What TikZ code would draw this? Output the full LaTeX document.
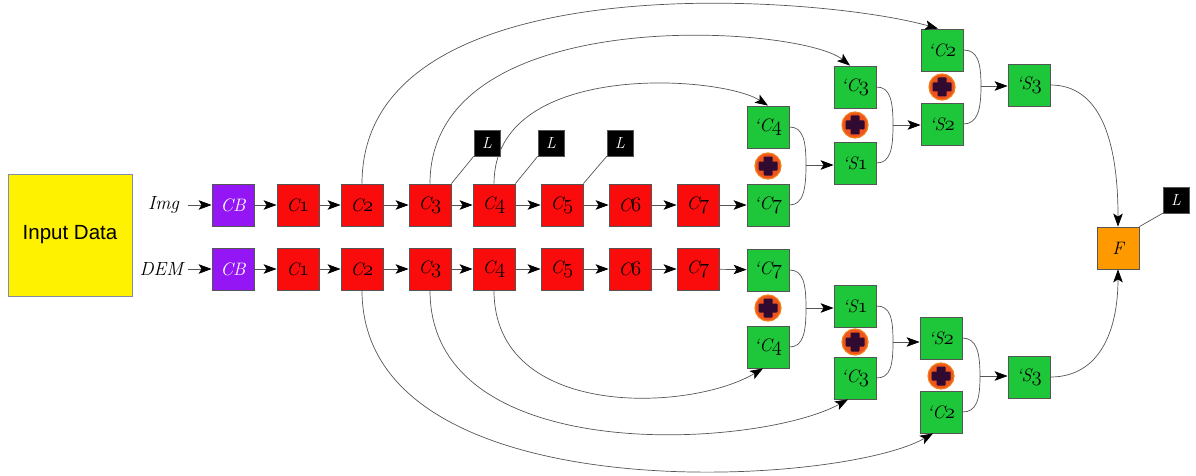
\documentclass[tikz,border=0pt]{standalone}
\usepackage{fontspec}
\newfontfamily\sansf{Liberation Sans}
\usetikzlibrary{arrows.meta}
\newcommand\osn[1]{{\fontsize{21}{21}\usefont{OML}{cmm}{m}{it}#1}}
\definecolor{cbpurple}{RGB}{148,22,245}
\definecolor{cred}{RGB}{250,12,12}
\definecolor{cgreen}{RGB}{30,198,58}
\definecolor{forange}{RGB}{255,153,0}
\definecolor{pring}{RGB}{238,84,30}
\definecolor{pdark}{RGB}{48,10,48}
\definecolor{edgec}{RGB}{85,85,85}
\definecolor{inborder}{RGB}{130,140,170}
\begin{document}
\begin{tikzpicture}[x=1pt,y=-1pt,
  box/.style={draw=edgec, line width=0.8pt, minimum size=42pt, inner sep=0pt,
    font=\fontsize{18}{18}\selectfont\itshape},
  cbbox/.style={box, fill=cbpurple, text=white},
  redbox/.style={box, fill=cred},
  grbox/.style={box, fill=cgreen},
  fbox/.style={box, fill=forange},
  lbox/.style={draw=edgec, fill=black, text=white, minimum size=26pt, inner sep=0pt,
    font=\fontsize{16}{16}\selectfont\itshape},
  lab/.style={inner sep=0pt, outer sep=0pt, anchor=east, font=\fontsize{19}{19}\selectfont\itshape},
  conn/.style={draw=edgec, line width=0.7pt},
  arr/.style={conn, -{Stealth[length=13pt,width=9.5pt,inset=3pt,color=black]}},
  plusc/.style={circle, fill=pring, draw=pring!75!yellow, line width=1.2pt, minimum size=26pt, inner sep=0pt,
    path picture={
      \fill[pdark, rounded corners=1pt] ([xshift=-9.5pt,yshift=-4.5pt]path picture bounding box.center) rectangle ([xshift=9.5pt,yshift=4.5pt]path picture bounding box.center);
      \fill[pdark, rounded corners=1pt] ([xshift=-4.5pt,yshift=-9.5pt]path picture bounding box.center) rectangle ([xshift=4.5pt,yshift=9.5pt]path picture bounding box.center);
    }},
]
\useasboundingbox (0,0) rectangle (1196,476);

% input
\node[draw=inborder, line width=0.8pt, fill=yellow, minimum width=124pt, minimum height=122pt,
  inner sep=0pt, font=\sansf\fontsize{20.5}{20.5}\selectfont] (input) at (70,235) {Input Data};

% labels
\node[lab] (img) at (179,205) {Img};
\node[lab] (dem) at (183,269) {DEM};

% top row
\node[cbbox] (cbu) at (233,205) {CB};
\node[redbox] (c1u) at (298,205) {C\osn{1}};
\node[redbox] (c2u) at (362,205) {C\osn{2}};
\node[redbox] (c3u) at (430,205) {C\osn{3}};
\node[redbox] (c4u) at (494,205) {C\osn{4}};
\node[redbox] (c5u) at (562,205) {C\osn{5}};
\node[redbox] (c6u) at (630,205) {C\osn{6}};
\node[redbox] (c7u) at (698,205) {C\osn{7}};

% bottom row
\node[cbbox] (cbl) at (233,269) {CB};
\node[redbox] (c1l) at (298,269) {C\osn{1}};
\node[redbox] (c2l) at (362,269) {C\osn{2}};
\node[redbox] (c3l) at (430,269) {C\osn{3}};
\node[redbox] (c4l) at (494,269) {C\osn{4}};
\node[redbox] (c5l) at (562,269) {C\osn{5}};
\node[redbox] (c6l) at (630,269) {C\osn{6}};
\node[redbox] (c7l) at (698,269) {C\osn{7}};

% upper green
\node[grbox] (g4u) at (768,127) {`C\osn{4}};
\node[plusc] (p1u) at (768,166) {};
\node[grbox] (g7u) at (768,205) {`C\osn{7}};
\node[grbox] (g3u) at (855,87) {`C\osn{3}};
\node[plusc] (p2u) at (855,125) {};
\node[grbox] (s1u) at (855,163) {`S\osn{1}};
\node[grbox] (g2u) at (942,50) {`C\osn{2}};
\node[plusc] (p3u) at (942,87) {};
\node[grbox] (s2u) at (942,124) {`S\osn{2}};
\node[grbox] (s3u) at (1029,85) {`S\osn{3}};

% lower green
\node[grbox] (g7l) at (768,270) {`C\osn{7}};
\node[plusc] (p1l) at (768,308) {};
\node[grbox] (g4l) at (768,347) {`C\osn{4}};
\node[grbox] (s1l) at (855,306) {`S\osn{1}};
\node[plusc] (p2l) at (855,342) {};
\node[grbox] (g3l) at (855,378) {`C\osn{3}};
\node[grbox] (s2l) at (941,338) {`S\osn{2}};
\node[plusc] (p3l) at (941,376) {};
\node[grbox] (g2l) at (941,412) {`C\osn{2}};
\node[grbox] (s3l) at (1029,377) {`S\osn{3}};

% fusion
\node[fbox] (f) at (1118,248) {F};

% junctions
\coordinate (j1u) at (806,165);
\coordinate (j2u) at (893,125);
\coordinate (j3u) at (981,86);
\coordinate (j1l) at (806,308);
\coordinate (j2l) at (893,342);
\coordinate (j3l) at (980,376);

% row arrows
\draw[arr, shorten <=9pt] (img) -- (cbu);
\draw[arr, shorten <=5pt] (dem) -- (cbl);
\foreach \a/\b in {cbu/c1u,c1u/c2u,c2u/c3u,c3u/c4u,c4u/c5u,c5u/c6u,c6u/c7u,c7u/g7u,
                   cbl/c1l,c1l/c2l,c2l/c3l,c3l/c4l,c4l/c5l,c5l/c6l,c6l/c7l,c7l/g7l}
  \draw[arr] (\a) -- (\b);

% skip arcs (upper)
\draw[arr] (c2u.north) .. controls (362,-40) and (820,-5) .. ([xshift=-4pt]g2u.north);
\draw[arr] (c3u.north) .. controls (430,0) and (800,25) .. ([xshift=-5pt]g3u.north);
\draw[arr] (c4u.north) .. controls (494,60) and (720,75) .. (g4u.north);

% skip arcs (lower)
\draw[arr] (c4l.south) .. controls (494,420) and (690,412) .. ([xshift=-5pt]g4l.south);
\draw[arr] (c3l.south) .. controls (430,470) and (760,448) .. ([xshift=-7pt]g3l.south);
\draw[arr] (c2l.south) .. controls (362,515) and (840,487) .. ([xshift=-8pt]g2l.south);

% merge brackets upper
\draw[conn] (g4u.east) .. controls +(14,0) and +(0,-24) .. (j1u) .. controls +(0,24) and +(14,0) .. (g7u.east);
\draw[arr] (j1u) -- (j1u -| s1u.west);
\draw[conn] (g3u.east) .. controls +(14,0) and +(0,-24) .. (j2u) .. controls +(0,24) and +(14,0) .. (s1u.east);
\draw[arr] (j2u) -- (j2u -| s2u.west);
\draw[conn] (g2u.east) .. controls +(14,0) and +(0,-24) .. (j3u) .. controls +(0,24) and +(14,0) .. (s2u.east);
\draw[arr] (j3u) -- (j3u -| s3u.west);

% merge brackets lower
\draw[conn] (g7l.east) .. controls +(14,0) and +(0,-24) .. (j1l) .. controls +(0,24) and +(14,0) .. (g4l.east);
\draw[arr] (j1l) -- (j1l -| s1l.west);
\draw[conn] (s1l.east) .. controls +(14,0) and +(0,-24) .. (j2l) .. controls +(0,24) and +(14,0) .. (g3l.east);
\draw[arr] (j2l) -- (j2l -| s2l.west);
\draw[conn] (s2l.east) .. controls +(14,0) and +(0,-24) .. (j3l) .. controls +(0,24) and +(14,0) .. (g2l.east);
\draw[arr] (j3l) -- (j3l -| s3l.west);

% to fusion
\draw[arr] (s3u.east) .. controls (1100,85) and (1118,140) .. (f.north);
\draw[arr] (s3l.east) .. controls (1100,377) and (1118,330) .. (f.south);

% L boxes
\node[lbox] (l1) at (487,143) {L};
\node[lbox] (l2) at (551,143) {L};
\node[lbox] (l3) at (620,143) {L};
\node[lbox] (lf) at (1176,200) {L};
\draw[conn] (c3u.north east) -- (l1.south west);
\draw[conn] (c4u.north east) -- (l2.south west);
\draw[conn] (c5u.north east) -- (l3.south west);
\draw[conn] (f.north east) -- (lf.south west);
\end{tikzpicture}
\end{document}
